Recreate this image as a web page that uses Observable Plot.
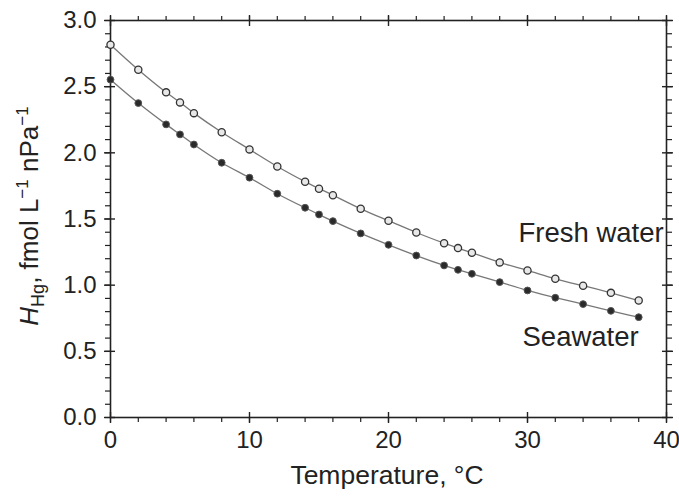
<!DOCTYPE html>
<html><head><meta charset="utf-8">
<script src="https://cdn.jsdelivr.net/npm/d3@7"></script>
<script src="https://cdn.jsdelivr.net/npm/@observablehq/plot@0.6"></script>
<style>
body{margin:0;background:#fff;}
svg{font-family:"Liberation Sans",Arial,Helvetica,sans-serif;}
</style>
</head><body><div id="chart"></div>
<script>
const temperatures = [0,2,4,5,6,8,10,12,14,15,16,18,20,22,24,25,26,28,30,32,34,36,38];
const freshWater = [2.817,2.628,2.457,2.381,2.300,2.156,2.026,1.897,1.782,1.729,1.680,1.577,1.487,1.398,1.317,1.280,1.245,1.172,1.111,1.048,0.996,0.942,0.884];
const seawater = [2.553,2.376,2.215,2.139,2.063,1.925,1.812,1.691,1.585,1.534,1.484,1.391,1.305,1.224,1.149,1.116,1.086,1.023,0.960,0.905,0.857,0.806,0.758];
const seriesNames = ["Fresh water", "Seawater"];
const xMajorTicks = [0,10,20,30,40];
const xMinorTicks = d3.range(0,41,2);
const yMajorTicks = [0,0.5,1,1.5,2,2.5,3];
const yMinorTicks = d3.range(0,31).map(i => i/10);
const xLabel = "Temperature, °C";

const fresh = temperatures.map((t,i) => ({t, h: freshWater[i]}));
const sea = temperatures.map((t,i) => ({t, h: seawater[i]}));

const ink = "#222";
const noText = () => "";

const plot = Plot.plot({
  width: 679, height: 496,
  marginLeft: 110, marginRight: 13, marginTop: 20, marginBottom: 79,
  style: {fontSize: "24px", fontFamily: "Liberation Sans, Arial, sans-serif", color: ink, background: "#fff"},
  x: {domain: [0,40]},
  y: {domain: [0,3]},
  marks: [
    // minor ticks (outward) on all four sides
    Plot.axisX({anchor: "bottom", ticks: xMinorTicks, tickSize: 5, tickFormat: noText, label: null, strokeWidth: 1.2}),
    Plot.axisX({anchor: "top", ticks: xMinorTicks, tickSize: 5, tickFormat: noText, label: null, strokeWidth: 1.2}),
    Plot.axisY({anchor: "left", ticks: yMinorTicks, tickSize: 5, tickFormat: noText, label: null, strokeWidth: 1.2}),
    Plot.axisY({anchor: "right", ticks: yMinorTicks, tickSize: 5, tickFormat: noText, label: null, strokeWidth: 1.2}),
    // major ticks crossing the frame
    Plot.axisX({anchor: "bottom", ticks: xMajorTicks, tickSize: 11, dy: -5, tickFormat: noText, label: null, strokeWidth: 1.4}),
    Plot.axisX({anchor: "top", ticks: xMajorTicks, tickSize: 11, dy: 5, tickFormat: noText, label: null, strokeWidth: 1.4}),
    Plot.axisY({anchor: "left", ticks: yMajorTicks, tickSize: 11, dx: 5, tickFormat: noText, label: null, strokeWidth: 1.4}),
    Plot.axisY({anchor: "right", ticks: yMajorTicks, tickSize: 11, dx: -5, tickFormat: noText, label: null, strokeWidth: 1.4}),
    // tick labels
    Plot.axisX({anchor: "bottom", ticks: xMajorTicks, tickSize: 0, tickPadding: 13, tickFormat: d3.format("d"), label: null}),
    Plot.axisY({anchor: "left", ticks: yMajorTicks, tickSize: 0, tickPadding: 14, tickFormat: d3.format(".1f"), label: null}),
    Plot.frame({stroke: ink, strokeWidth: 1.6}),
    // curves
    Plot.line(fresh, {x: "t", y: "h", curve: "natural", stroke: "#777", strokeWidth: 1.3}),
    Plot.line(sea, {x: "t", y: "h", curve: "natural", stroke: "#777", strokeWidth: 1.3}),
    Plot.dot(fresh, {x: "t", y: "h", r: 3.6, fill: "#e8e8e8", stroke: "#333", strokeWidth: 1.3}),
    Plot.dot(sea, {x: "t", y: "h", r: 3.4, fill: "#2a2a2a", stroke: "#555", strokeWidth: 1}),
    // series labels
    Plot.text([seriesNames[0]], {x: 39.8, y: 1.39, text: d => d, textAnchor: "end", fontSize: 27.5, fill: ink}),
    Plot.text([seriesNames[1]], {x: 38.0, y: 0.61, text: d => d, textAnchor: "end", fontSize: 27.5, fill: ink})
  ]
});

const svg = d3.select(plot);
// x-axis title
svg.append("text")
  .attr("x", 387).attr("y", 484)
  .attr("text-anchor", "middle")
  .attr("font-size", 26.5).attr("fill", ink)
  .text(xLabel);
// y-axis title with italic H, subscript and superscripts
const yt = svg.append("text")
  .attr("transform", "translate(38,216) rotate(-90)")
  .attr("text-anchor", "middle")
  .attr("font-size", 26).attr("fill", ink);
yt.append("tspan").attr("font-style", "italic").text("H");
yt.append("tspan").attr("font-size", 18).attr("dy", 6).text("Hg");
yt.append("tspan").attr("dy", -6).text(", fmol L");
yt.append("tspan").attr("font-size", 17).attr("dy", -10).text("\u22121");
yt.append("tspan").attr("dy", 10).text(" nPa");
yt.append("tspan").attr("font-size", 17).attr("dy", -10).text("\u22121");

document.getElementById("chart").appendChild(plot);
</script>
</body></html>
